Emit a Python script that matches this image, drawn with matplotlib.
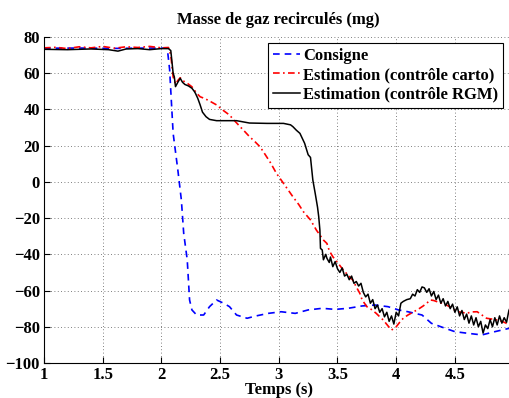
import matplotlib
matplotlib.use("Agg")
import matplotlib.pyplot as plt

# ---- data ----
t_consigne = [1.00, 1.30, 1.60, 1.90, 2.05, 2.07, 2.10, 2.14, 2.17, 2.19, 2.22, 2.24, 2.26,
              2.30, 2.36, 2.41, 2.47, 2.53, 2.58, 2.64, 2.73, 2.80, 2.91, 3.02, 3.14, 3.25,
              3.37, 3.48, 3.59, 3.71, 3.82, 3.93, 4.02, 4.10, 4.22, 4.30, 4.42, 4.50, 4.61,
              4.73, 4.84, 4.96, 5.00]
y_consigne = [73.8, 73.9, 73.7, 73.9, 73.8, 62, 26.8, 6.6, -10, -28.4, -43, -65.2, -70.7,
              -73.5, -73.5, -68.9, -65.2, -67, -68.9, -73.5, -75.3, -74.1, -72.6, -71.7, -72.6,
              -70.7, -69.8, -70.4, -69.8, -68.5, -68, -68.9, -70.7, -71.7, -73.5, -78.1, -80.9,
              -82.7, -83.6, -84.5, -82.7, -80.9, -81]

t_carto = [1.00, 1.10, 1.20, 1.30, 1.40, 1.50, 1.60, 1.70, 1.80, 1.90, 2.00, 2.06, 2.08, 2.10,
           2.12, 2.14, 2.16, 2.18, 2.22, 2.26, 2.30, 2.33, 2.37, 2.42, 2.47, 2.52, 2.58, 2.62,
           2.67, 2.71, 2.75, 2.80, 2.84, 2.88, 2.93, 2.98, 3.04, 3.08, 3.12, 3.17, 3.21, 3.27,
           3.32, 3.38, 3.41, 3.43, 3.46, 3.50, 3.55, 3.59, 3.63, 3.66, 3.69, 3.71, 3.75, 3.79,
           3.83, 3.86, 3.89, 3.93, 3.96, 4.00, 4.03, 4.06, 4.10, 4.15, 4.20, 4.23, 4.26, 4.29,
           4.32, 4.35, 4.39, 4.43, 4.48, 4.52, 4.56, 4.60, 4.64, 4.69, 4.73, 4.77, 4.82, 4.86,
           4.90, 4.94, 4.98]
y_carto = [74.0, 74.3, 73.6, 74.6, 74.0, 74.8, 73.8, 74.6, 74.2, 74.8, 74.0, 74.2, 70, 58,
           54, 56, 57.5, 56, 54.5, 52.5, 49, 47, 46, 44.3, 42.5, 39.8, 36.9, 34,
           30.5, 27.8, 25, 22, 19.4, 15.5, 10.5, 4.7, -0.8, -4.5, -8.2, -12.5, -16.5, -21,
           -26.6, -32.1, -34, -38, -41.3, -44.5, -48.7, -51.5, -54.2, -58, -61.5, -65.2, -68.9, -70.5,
           -72.6, -74.5, -76.3, -79.5, -81.8, -80, -77.5, -75.3, -73.5, -71.7, -69.8, -68.5, -67, -65.2,
           -65.5, -66.2, -67, -68, -70, -71.7, -72, -72.6, -71.8, -71.7, -73.5, -75.3, -75.8, -76.3,
           -77, -78.1, -77.5]

t_rgm = [1.00, 1.20, 1.40, 1.55, 1.63, 1.70, 1.80, 1.90, 2.00, 2.06, 2.08, 2.10, 2.11, 2.12,
         2.14, 2.16, 2.18, 2.20, 2.23, 2.26, 2.28, 2.29, 2.31, 2.33, 2.35, 2.38, 2.41, 2.47,
         2.53, 2.64, 2.75, 2.90, 3.04, 3.10, 3.12, 3.15, 3.18, 3.20, 3.22, 3.25, 3.27, 3.28,
         3.29, 3.31, 3.33, 3.34, 3.35, 3.355, 3.37, 3.38, 3.40, 3.41, 3.43, 3.44, 3.46, 3.48,
         3.50, 3.52, 3.54, 3.56, 3.58, 3.60, 3.62, 3.64, 3.66, 3.68, 3.70, 3.72, 3.74, 3.76,
         3.78, 3.80, 3.82, 3.84, 3.86, 3.88, 3.90, 3.92, 3.94, 3.96, 3.98, 4.00, 4.02, 4.04,
         4.06, 4.09, 4.12, 4.14, 4.16, 4.18, 4.20, 4.22, 4.24, 4.26, 4.28, 4.30, 4.32, 4.34,
         4.36, 4.38, 4.40, 4.42, 4.44, 4.46, 4.48, 4.50, 4.52, 4.54, 4.56, 4.58, 4.60, 4.62,
         4.64, 4.66, 4.68, 4.70, 4.72, 4.74, 4.76, 4.78, 4.80, 4.82, 4.84, 4.86, 4.88, 4.90,
         4.92, 4.94, 4.96, 4.98]
y_rgm = [73.2, 73.0, 73.4, 73.0, 72.2, 73.4, 73.6, 73.0, 73.6, 73.6, 72.5, 60, 58, 52.6,
         55, 57.2, 55, 53.8, 53.0, 51.7, 50, 48.9, 46.1, 42.5, 38.5, 36, 34.5, 33.8,
         33.8, 33.8, 32.5, 32.3, 32.3, 31.5, 30.5, 28.5, 26.8, 24, 21.3, 15.0, 13.5, 7.5,
         1.0, -6.3, -14, -19.2, -26.6, -36.7, -37.6, -43, -40, -42.2, -44.5, -41.5, -46.8, -44,
         -48, -50, -47.5, -52, -51, -54, -52, -56, -55, -57.5, -56, -61, -63.5, -62,
         -67, -65, -70, -68, -72, -70, -74.5, -72, -77, -74, -78.5, -72, -74, -67,
         -66, -65, -64.5, -62, -63, -59.5, -61, -58, -58.5, -61, -59, -63, -60.5, -65,
         -62.5, -67, -64.5, -68.5, -66, -70, -67.5, -72, -69, -74, -71, -76, -73, -78,
         -74, -79, -75, -80, -77, -83.5, -79, -81, -76, -80, -75, -79, -74, -78,
         -75, -77.5, -71, -68]

x_ticks = [1, 1.5, 2, 2.5, 3, 3.5, 4, 4.5, 5]
x_ticklabels = ["1", "1.5", "2", "2.5", "3", "3.5", "4", "4.5", ""]
y_ticks = [-100, -80, -60, -40, -20, 0, 20, 40, 60, 80]

# ---- figure ----
plt.rcParams['font.family'] = ['Liberation Serif', 'DejaVu Serif']
plt.rcParams['font.weight'] = 'bold'

fig = plt.figure(figsize=(5.10, 3.98), dpi=100)
ax = fig.add_axes([44/510, 1 - 363/398, (513.6 - 44)/510, (363 - 37)/398])

ax.plot(t_consigne, y_consigne, color='#0000ff', lw=1.2, dashes=(4, 3), label='Consigne')
ax.plot(t_carto, y_carto, color='#ff0000', lw=1.2, dashes=(4, 2, 1, 2), label='Estimation (contrôle carto)')
ax.plot(t_rgm, y_rgm, color='black', lw=1.1, label='Estimation (contrôle RGM)')

ax.set_xlim(1, 5)
ax.set_ylim(-100, 80)
ax.set_xticks(x_ticks)
ax.set_xticklabels(x_ticklabels)
ax.set_yticks(y_ticks)
ax.grid(True, linestyle=(0, (1, 3)), color='#555555', lw=0.6)
ax.tick_params(direction='in', length=4, width=0.8, labelsize=12, pad=3)
for lab in ax.get_xticklabels() + ax.get_yticklabels():
    lab.set_fontweight('bold')
ax.spines['top'].set_visible(False)
ax.spines['right'].set_visible(False)
ax.spines['left'].set_linewidth(0.8)
ax.spines['bottom'].set_linewidth(0.8)

ax.set_title('Masse de gaz recirculés (mg)', fontsize=12, fontweight='bold', pad=9)
ax.set_xlabel('Temps (s)', fontsize=12, fontweight='bold', labelpad=-1)

leg = ax.legend(loc='upper right', bbox_to_anchor=(503/510, 1 - 43/398),
                bbox_transform=fig.transFigure, fancybox=False, framealpha=1,
                edgecolor='black', fontsize=12, handlelength=1.65, handletextpad=0.15,
                borderpad=0.3, labelspacing=0.2, borderaxespad=0)
leg.get_frame().set_linewidth(0.8)
for txt in leg.get_texts():
    txt.set_fontweight('bold')

fig.savefig('out.png', dpi=100)
